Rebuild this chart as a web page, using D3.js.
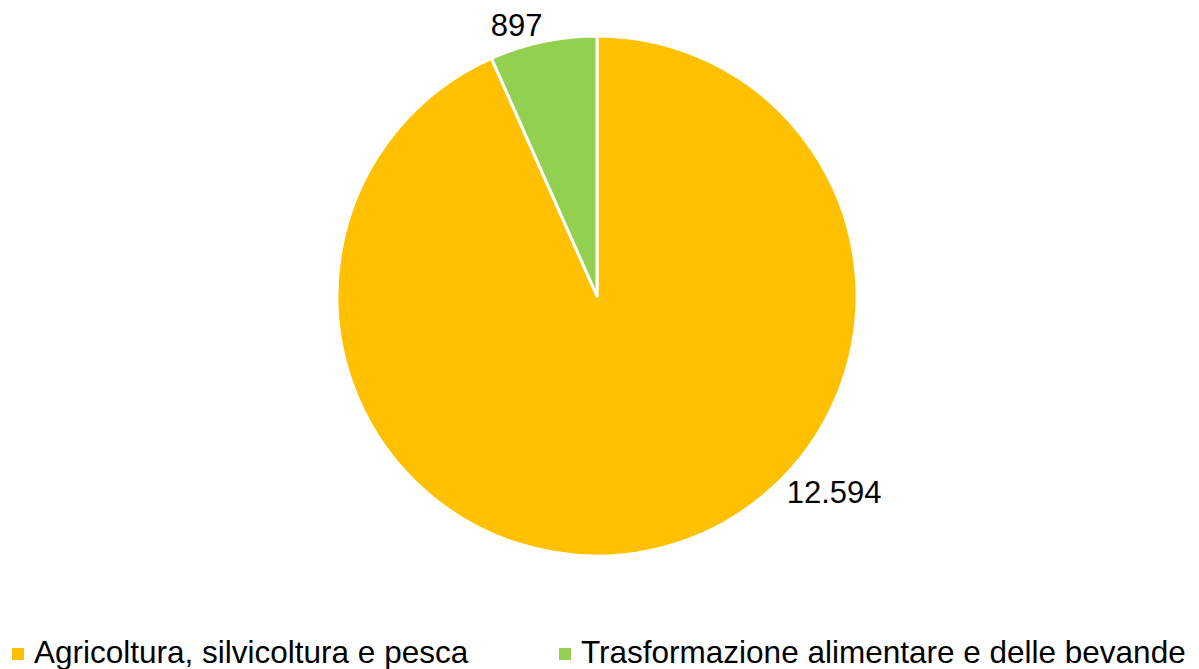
<!DOCTYPE html>
<html>
<head>
<meta charset="utf-8">
<script src="https://cdn.jsdelivr.net/npm/d3@7"></script>
<style>
  body { margin: 0; background: #fff; }
  svg { display: block; font-family: "Liberation Sans", Arial, sans-serif; }
</style>
</head>
<body>
<svg id="canvas"></svg>
<script>
let categories = ["Agricoltura, silvicoltura e pesca", "Trasformazione alimentare e delle bevande"];
let values = [12594, 897];
let valueLabels = ["12.594", "897"];
let colors = ["#FFC000", "#92D050"];

let width = 1199;
let height = 669;
let cx = 597, cy = 296, radius = 260;

let canvas = d3.select("#canvas")
    .attr("width", width)
    .attr("height", height);

let pie = d3.pie().sort(null).value(d => d);
let arcs = pie(values);
let arc = d3.arc().innerRadius(0).outerRadius(radius);

let g = canvas.append("g").attr("transform", "translate(" + cx + "," + cy + ")");

g.selectAll("path")
    .data(arcs)
    .enter()
    .append("path")
    .attr("d", arc)
    .attr("fill", (d, i) => colors[i])
    .attr("stroke", "#fff")
    .attr("stroke-width", 3)
    .attr("stroke-linejoin", "round");

// data labels, placed outside the slice (best fit style)
let labelPos = (d, i) => {
    let mid = (d.startAngle + d.endAngle) / 2;
    let a, r;
    if (i === 0) { a = mid - 0.67; r = radius + 48; }
    else { a = mid - 0.08; r = radius + 22; }
    return [Math.sin(a) * r, -Math.cos(a) * r];
};

g.selectAll("text.lbl")
    .data(arcs)
    .enter()
    .append("text")
    .attr("class", "lbl")
    .attr("x", (d, i) => labelPos(d, i)[0])
    .attr("y", (d, i) => labelPos(d, i)[1])
    .attr("text-anchor", "middle")
    .attr("dominant-baseline", "central")
    .attr("font-size", 31)
    .attr("fill", "#000")
    .text((d, i) => valueLabels[i]);

// legend
let legendX = [12, 559];
let legend = canvas.append("g");
legend.selectAll("rect")
    .data(categories)
    .enter()
    .append("rect")
    .attr("x", (d, i) => legendX[i])
    .attr("y", 648)
    .attr("width", 12)
    .attr("height", 12)
    .attr("fill", (d, i) => colors[i]);

legend.selectAll("text")
    .data(categories)
    .enter()
    .append("text")
    .attr("x", (d, i) => legendX[i] + 22)
    .attr("y", 663)
    .attr("font-size", 31.5)
    .attr("fill", "#000")
    .text(d => d);
</script>
</body>
</html>
